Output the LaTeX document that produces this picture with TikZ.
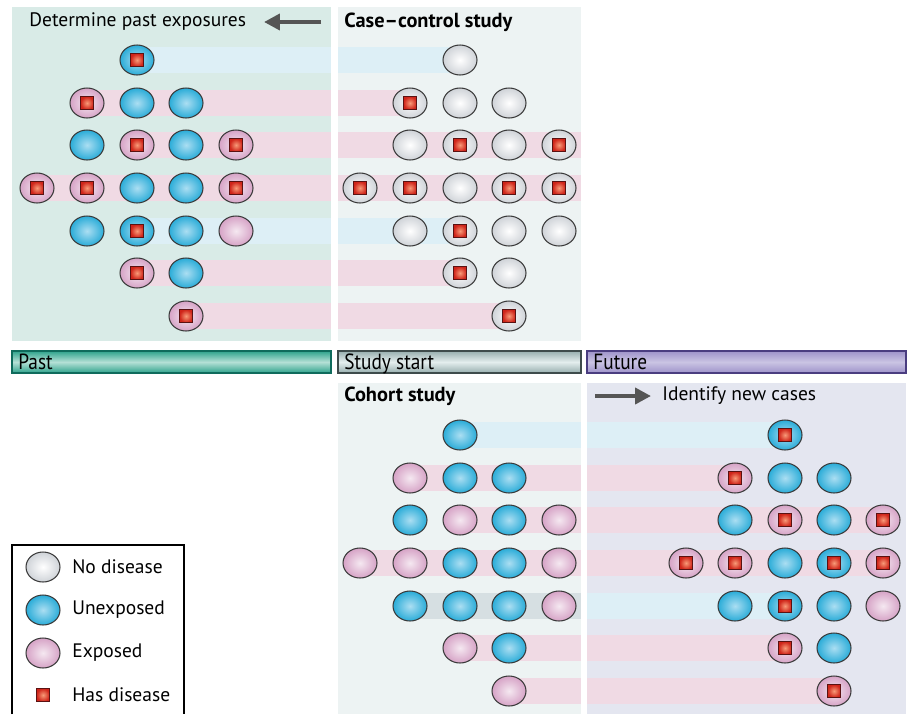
\documentclass[tikz,border=0pt]{standalone}
\usepackage{fontspec}
\setmainfont{PT Sans}
\newfontfamily\narrowfont[FakeStretch=0.88]{PT Sans}
\usetikzlibrary{arrows.meta,shapes.geometric}

\definecolor{pastbg}{HTML}{D9EBE7}
\definecolor{studybg}{HTML}{EDF3F3}
\definecolor{futurebg}{HTML}{E4E6F0}
\definecolor{blueband}{HTML}{DDEFF6}
\definecolor{pinkband}{HTML}{F0DAE4}
\definecolor{greyband}{HTML}{D6DFE2}
\definecolor{unexpout}{HTML}{2AACD8}
\definecolor{unexpin}{HTML}{ABDEF2}
\definecolor{expout}{HTML}{D6A3C6}
\definecolor{expin}{HTML}{F5E8F1}
\definecolor{healthout}{HTML}{CFD3D8}
\definecolor{healthin}{HTML}{FFFFFF}
\definecolor{caseout}{HTML}{CF2419}
\definecolor{casein}{HTML}{F89A78}
\definecolor{caserim}{HTML}{5A1212}
\definecolor{rim}{HTML}{3A3A3A}
\definecolor{arrowgrey}{HTML}{555555}
\definecolor{pastedge}{HTML}{2FA38C}
\definecolor{pastmid}{HTML}{B4E0D6}
\definecolor{pastrim}{HTML}{0F6B5C}
\definecolor{startedge}{HTML}{97AEAE}
\definecolor{startmid}{HTML}{E4EEEE}
\definecolor{startrim}{HTML}{3E4B4B}
\definecolor{futedge}{HTML}{9E93CA}
\definecolor{futmid}{HTML}{CAC4E3}
\definecolor{futrim}{HTML}{4A3D80}

\begin{document}
\begin{tikzpicture}[x=0.02cm, y=-0.02cm,
    person/.style={ellipse, draw=rim, line width=0.6pt, minimum width=0.68cm,
      minimum height=0.6cm, inner sep=0pt},
    unexposed/.style={person, inner color=unexpin, outer color=unexpout},
    exposed/.style={person, inner color=expin, outer color=expout},
    nodisease/.style={person, inner color=healthin, outer color=healthout},
    case/.style={rectangle, draw=caserim, line width=0.6pt, minimum size=0.26cm,
      inner sep=0pt, inner color=casein, outer color=caseout},
    txt/.style={font=\fontsize{11.1}{13}\selectfont, inner sep=0pt, anchor=west},
    heading/.style={txt, font=\fontsize{11.6}{13}\selectfont\bfseries},
    bartxt/.style={font=\narrowfont\fontsize{12.5}{14}\selectfont, inner sep=0pt, anchor=base west},
    timearrow/.style={arrowgrey, line width=2.2pt, -{Triangle[length=9pt,width=9pt]}}]
  \useasboundingbox (0,0) rectangle (912,714);

  % panels
  \fill[pastbg] (12,7) rectangle (331,341);
  \fill[studybg] (338,7) rectangle (581,341);
  \fill[studybg] (338,383) rectangle (581,714);
  \fill[futurebg] (587,383) rectangle (906,714);

  % exposure bands
  \foreach \a/\b/\y/\c in {137/331/60/blueband, 87/331/103/pinkband, 137/331/145/pinkband,
      37/331/188/pinkband, 137/331/231/blueband, 137/331/273/pinkband, 186/331/316/pinkband,
      338/460/60/blueband, 338/410/103/pinkband, 338/581/145/pinkband, 338/581/188/pinkband,
      338/460/231/blueband, 338/460/273/pinkband, 338/509/316/pinkband,
      460/581/435/blueband, 410/581/478/pinkband, 460/581/520/pinkband, 360/581/563/pinkband,
      410/581/606/greyband, 460/581/648/pinkband, 509/581/691/pinkband,
      587/785/435/blueband, 587/735/478/pinkband, 587/883/520/pinkband, 587/883/563/pinkband,
      587/785/606/blueband, 587/785/648/pinkband, 587/834/691/pinkband}
    \fill[\c] (\a,\y-13) rectangle (\b,\y+13);

  % past
  \foreach \x/\y/\k/\d [count=\i] in {137/60/unexposed/1,
      87/103/exposed/1, 137/103/unexposed/0, 186/103/unexposed/0,
      87/145/unexposed/0, 137/145/exposed/1, 186/145/unexposed/0, 236/145/exposed/1,
      37/188/exposed/1, 87/188/exposed/1, 137/188/unexposed/0, 186/188/unexposed/0, 236/188/exposed/1,
      87/231/unexposed/0, 137/231/unexposed/1, 186/231/unexposed/0, 236/231/exposed/0,
      137/273/exposed/1, 186/273/unexposed/0,
      186/316/exposed/1} {
    \node[\k] (past\i) at (\x,\y) {};
    \ifnum\d=1 \node[case] (pastcase\i) at (past\i) {}; \fi
  }

  % case-control
  \foreach \x/\y/\d [count=\i] in {460/60/0,
      410/103/1, 460/103/0, 509/103/0,
      410/145/0, 460/145/1, 509/145/0, 559/145/1,
      360/188/1, 410/188/1, 460/188/0, 509/188/1, 559/188/1,
      410/231/0, 460/231/1, 509/231/0, 559/231/0,
      460/273/1, 509/273/0,
      509/316/1} {
    \node[nodisease] (cc\i) at (\x,\y) {};
    \ifnum\d=1 \node[case] (cccase\i) at (cc\i) {}; \fi
  }

  % cohort
  \foreach \x/\y/\k [count=\i] in {460/435/unexposed,
      410/478/exposed, 460/478/unexposed, 509/478/unexposed,
      410/520/unexposed, 460/520/exposed, 509/520/unexposed, 559/520/exposed,
      360/563/exposed, 410/563/exposed, 460/563/unexposed, 509/563/unexposed, 559/563/exposed,
      410/606/unexposed, 460/606/unexposed, 509/606/unexposed, 559/606/exposed,
      460/648/exposed, 509/648/unexposed,
      509/691/exposed}
    \node[\k] (coh\i) at (\x,\y) {};

  % future
  \foreach \x/\y/\k/\d [count=\i] in {785/435/unexposed/1,
      735/478/exposed/1, 785/478/unexposed/0, 834/478/unexposed/0,
      735/520/unexposed/0, 785/520/exposed/1, 834/520/unexposed/0, 883/520/exposed/1,
      686/563/exposed/1, 735/563/exposed/1, 785/563/unexposed/0, 834/563/unexposed/1, 883/563/exposed/1,
      735/606/unexposed/0, 785/606/unexposed/1, 834/606/unexposed/0, 883/606/exposed/0,
      785/648/exposed/1, 834/648/unexposed/0,
      834/691/exposed/1} {
    \node[\k] (fut\i) at (\x,\y) {};
    \ifnum\d=1 \node[case] (futcase\i) at (fut\i) {}; \fi
  }

  % headings and arrows
  \node[txt] (pastlabel) at (29,22) {Determine past exposures};
  \coordinate (pastfrom) at (321,22);
  \coordinate (pastto) at (264,22);
  \draw[timearrow] (pastfrom) -- (pastto);
  \node[heading] (cclabel) at (344,22) {Case–control study};
  \node[heading] (cohlabel) at (344,396) {Cohort study};
  \coordinate (futfrom) at (595,396);
  \coordinate (futto) at (651,396);
  \draw[timearrow] (futfrom) -- (futto);
  \node[txt] (futlabel) at (662,396) {Identify new cases};

  % timeline
  \shadedraw[draw=pastrim, line width=0.8pt, top color=pastedge,
    bottom color=pastedge, middle color=pastmid] (12,351) rectangle (331,373);
  \shadedraw[draw=startrim, line width=0.8pt, top color=startedge,
    bottom color=startedge, middle color=startmid] (338,351) rectangle (581,373);
  \shadedraw[draw=futrim, line width=0.8pt, top color=futedge,
    bottom color=futedge, middle color=futmid] (587,351) rectangle (906,373);
  \node[bartxt] (pastbar) at (18,369) {Past};
  \node[bartxt] (startbar) at (344,369) {Study start};
  \node[bartxt] (futbar) at (593,369) {Future};

  % key
  \draw[line width=0.6pt] (12,714) -- (12,545) -- (184,545) -- (184,714);
  \node[nodisease] (keyhealthy) at (43,567) {};
  \node[unexposed] (keyunexp) at (43,610) {};
  \node[exposed] (keyexp) at (43,653) {};
  \node[case] (keycase) at (43,695) {};
  \node[txt] at (72,567) (keyhealthytxt) {No disease};
  \node[txt] at (72,610) (keyunexptxt) {Unexposed};
  \node[txt] at (72,653) (keyexptxt) {Exposed};
  \node[txt] at (72,695) (keycasetxt) {Has disease};
\end{tikzpicture}
\end{document}
